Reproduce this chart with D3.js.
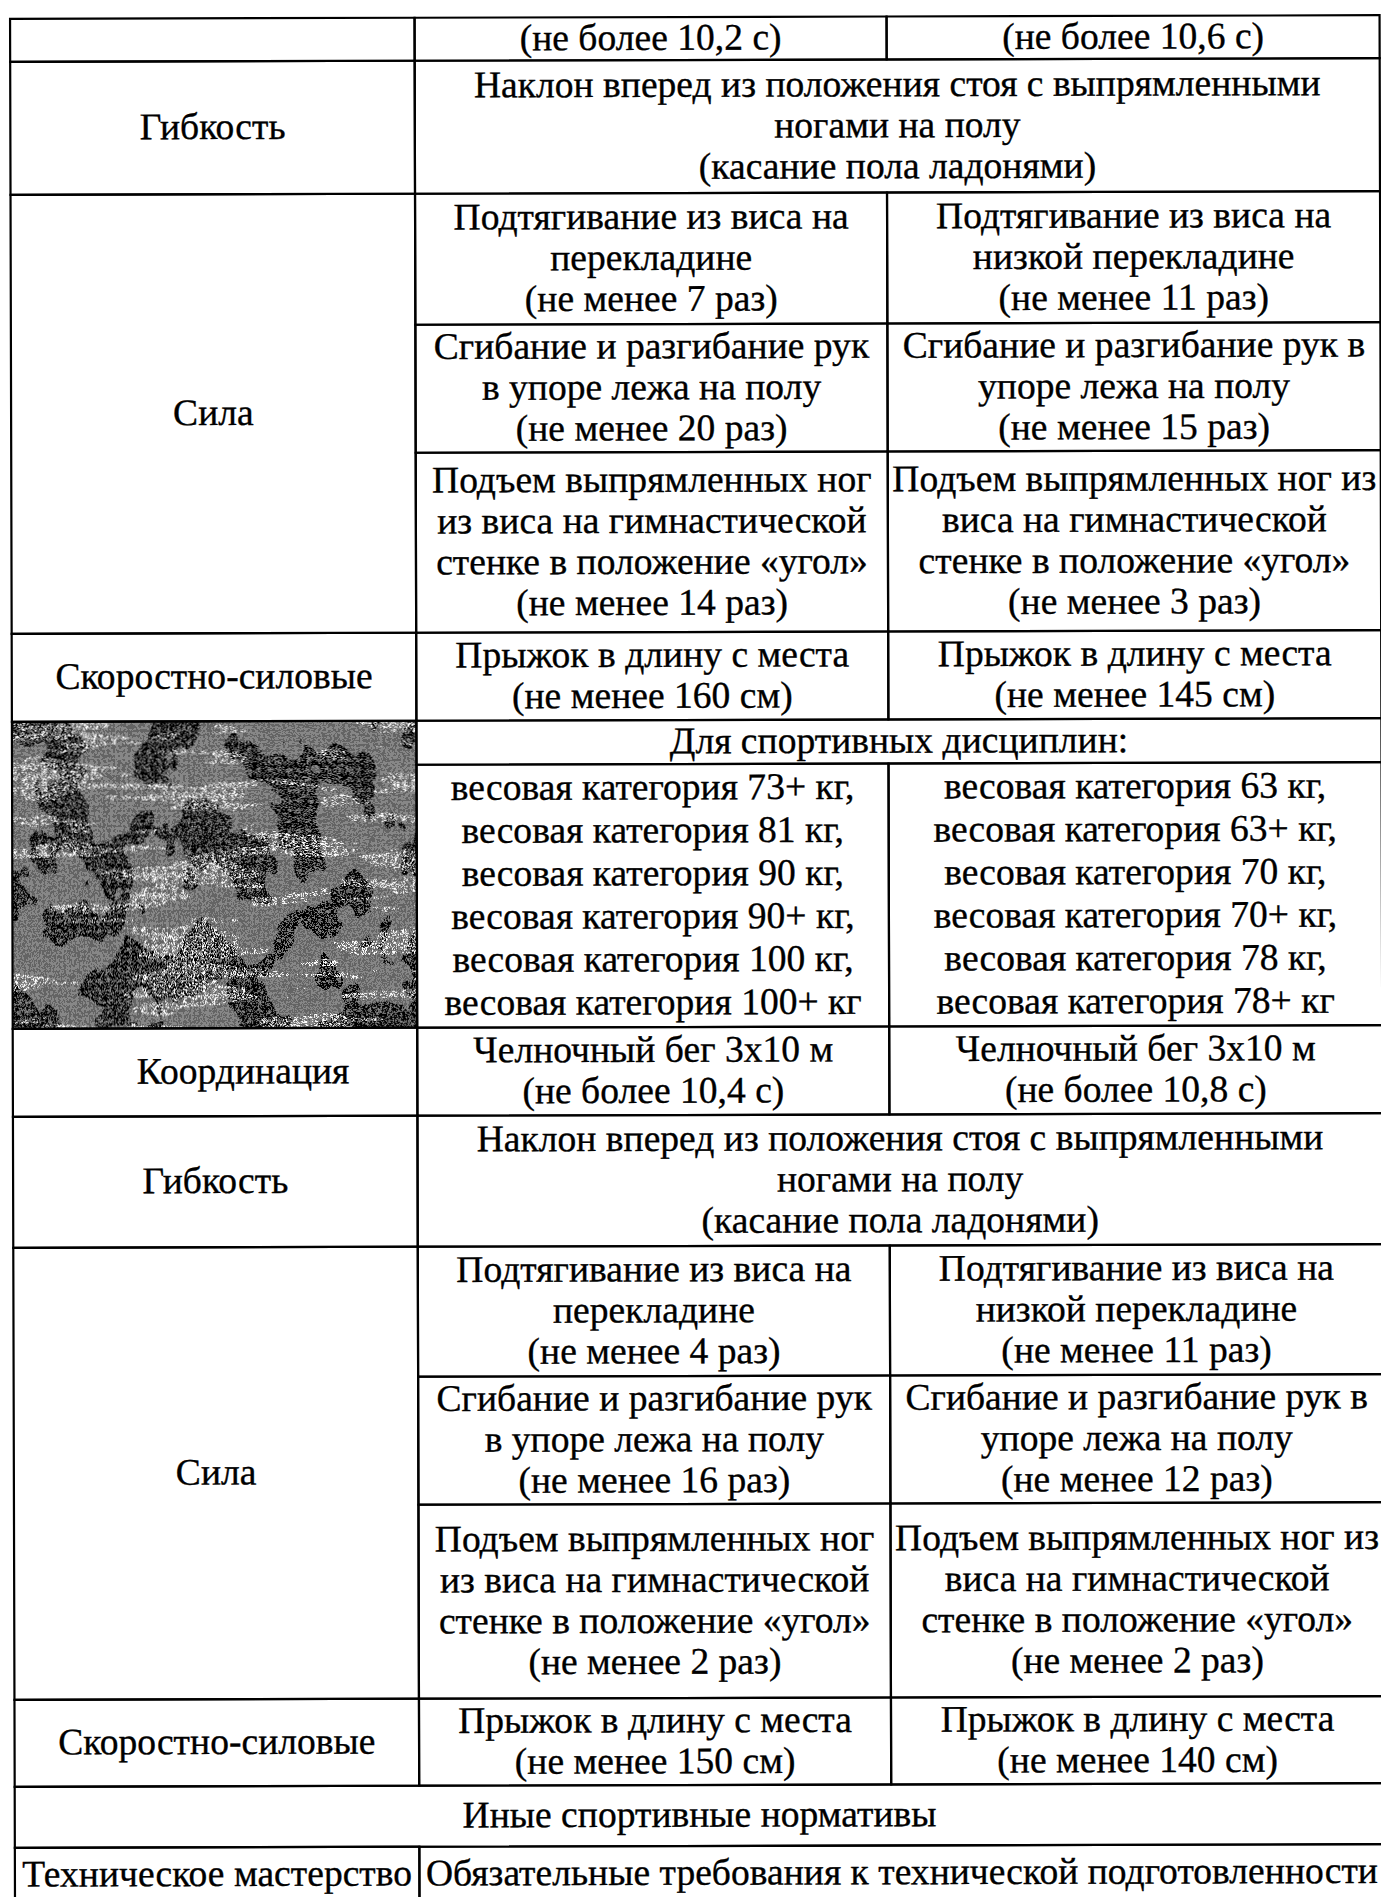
<!DOCTYPE html>
<html><head><meta charset="utf-8">
<script src="https://cdn.jsdelivr.net/npm/d3@7"></script>
<style>html,body{margin:0;padding:0;background:#fff;} svg{display:block}</style>
</head><body><div id="chart"></div>
<script>
// ---------- data (texts of the table) ----------
const flexText = ["Наклон вперед из положения стоя с выпрямленными", "ногами на полу", "(касание пола ладонями)"];
const pullA1 = ["Подтягивание из виса на", "перекладине", "(не менее 7 раз)"];
const pullB1 = ["Подтягивание из виса на", "низкой перекладине", "(не менее 11 раз)"];
const pushA1 = ["Сгибание и разгибание рук", "в упоре лежа на полу", "(не менее 20 раз)"];
const pushB1 = ["Сгибание и разгибание рук в", "упоре лежа на полу", "(не менее 15 раз)"];
const legsA1 = ["Подъем выпрямленных ног", "из виса на гимнастической", "стенке в положение «угол»", "(не менее 14 раз)"];
const legsB1 = ["Подъем выпрямленных ног из", "виса на гимнастической", "стенке в положение «угол»", "(не менее 3 раз)"];
const jumpA1 = ["Прыжок в длину с места", "(не менее 160 см)"];
const jumpB1 = ["Прыжок в длину с места", "(не менее 145 см)"];
const weightsA = ["весовая категория 73+ кг,", "весовая категория 81 кг,", "весовая категория 90 кг,", "весовая категория 90+ кг,", "весовая категория 100 кг,", "весовая категория 100+ кг"];
const weightsB = ["весовая категория 63 кг,", "весовая категория 63+ кг,", "весовая категория 70 кг,", "весовая категория 70+ кг,", "весовая категория 78 кг,", "весовая категория 78+ кг"];
const runA2 = ["Челночный бег 3х10 м", "(не более 10,4 с)"];
const runB2 = ["Челночный бег 3х10 м", "(не более 10,8 с)"];
const pullA2 = ["Подтягивание из виса на", "перекладине", "(не менее 4 раз)"];
const pullB2 = ["Подтягивание из виса на", "низкой перекладине", "(не менее 11 раз)"];
const pushA2 = ["Сгибание и разгибание рук", "в упоре лежа на полу", "(не менее 16 раз)"];
const pushB2 = ["Сгибание и разгибание рук в", "упоре лежа на полу", "(не менее 12 раз)"];
const legsA2 = ["Подъем выпрямленных ног", "из виса на гимнастической", "стенке в положение «угол»", "(не менее 2 раз)"];
const legsB2 = ["Подъем выпрямленных ног из", "виса на гимнастической", "стенке в положение «угол»", "(не менее 2 раз)"];
const jumpA2 = ["Прыжок в длину с места", "(не менее 150 см)"];
const jumpB2 = ["Прыжок в длину с места", "(не менее 140 см)"];

// cells: [rowStart, rowEnd, colStart, colEnd, lines, kind]
const cells = [
  [0, 1, 0, 1, []],
  [0, 1, 1, 2, ["(не более 10,2 с)"]],
  [0, 1, 2, 3, ["(не более 10,6 с)"]],
  [1, 2, 0, 1, ["Гибкость"]],
  [1, 2, 1, 3, flexText],
  [2, 5, 0, 1, ["Сила"]],
  [2, 3, 1, 2, pullA1], [2, 3, 2, 3, pullB1],
  [3, 4, 1, 2, pushA1], [3, 4, 2, 3, pushB1],
  [4, 5, 1, 2, legsA1], [4, 5, 2, 3, legsB1],
  [5, 6, 0, 1, ["Скоростно-силовые"]],
  [5, 6, 1, 2, jumpA1], [5, 6, 2, 3, jumpB1],
  [6, 8, 0, 1, [], "texture"],
  [6, 7, 1, 3, ["Для спортивных дисциплин:"]],
  [7, 8, 1, 2, weightsA, "list"], [7, 8, 2, 3, weightsB, "list"],
  [8, 9, 0, 1, ["Координация"], "indent"],
  [8, 9, 1, 2, runA2], [8, 9, 2, 3, runB2],
  [9, 10, 0, 1, ["Гибкость"]],
  [9, 10, 1, 3, flexText],
  [10, 13, 0, 1, ["Сила"]],
  [10, 11, 1, 2, pullA2], [10, 11, 2, 3, pullB2],
  [11, 12, 1, 2, pushA2], [11, 12, 2, 3, pushB2],
  [12, 13, 1, 2, legsA2], [12, 13, 2, 3, legsB2],
  [13, 14, 0, 1, ["Скоростно-силовые"]],
  [13, 14, 1, 2, jumpA2], [13, 14, 2, 3, jumpB2],
  [14, 15, 0, 3, ["Иные спортивные нормативы"]],
  [15, 16, 0, 1, ["Техническое мастерство"]],
  [15, 16, 1, 3, ["Обязательные требования к технической подготовленности"]]
];

// ---------- layout ----------
const W = 1381, H = 1897;
const colEdges = [12.5, 417, 889, 1382];
const rowEdges = [17, 60, 193, 324, 452, 632, 720, 764, 1027, 1115, 1246, 1376, 1504, 1698, 1785, 1846, 1901];
const FONT = 37.6, LINE = 41, LIST_LINE = 43, INDENT = 28;

const x = d3.scaleLinear().domain(d3.range(colEdges.length)).range(colEdges);
const y = d3.scaleLinear().domain(d3.range(rowEdges.length)).range(rowEdges);

const svg = d3.select("#chart").append("svg").attr("width", W).attr("height", H)
  .style("background", "#fff");

const defs = svg.append("defs");
function noiseFilter(id, freq, seed, colorRow, thresholds, grainSeed, grainCut) {
  const f = defs.append("filter").attr("id", id).attr("x", 0).attr("y", 0).attr("width", 1).attr("height", 1)
    .attr("color-interpolation-filters", "sRGB");
  f.append("feTurbulence").attr("type", "fractalNoise").attr("baseFrequency", freq).attr("numOctaves", 3).attr("seed", seed).attr("result", "n");
  f.append("feColorMatrix").attr("in", "n").attr("type", "matrix").attr("values", colorRow).attr("result", "m");
  f.append("feComponentTransfer").attr("in", "m").attr("result", "m2")
    .append("feFuncA").attr("type", "discrete").attr("tableValues", thresholds);
  f.append("feTurbulence").attr("type", "turbulence").attr("baseFrequency", "0.9").attr("numOctaves", 1).attr("seed", grainSeed).attr("result", "gn");
  f.append("feColorMatrix").attr("in", "gn").attr("type", "matrix")
    .attr("values", `0 0 0 0 0  0 0 0 0 0  0 0 0 0 0  ${grainCut[0]} 0 0 0 ${grainCut[1]}`).attr("result", "g2");
  f.append("feComponentTransfer").attr("in", "g2").attr("result", "g3")
    .append("feFuncA").attr("type", "discrete").attr("tableValues", "0 1");
  f.append("feComposite").attr("in", "m2").attr("in2", "g3").attr("operator", "in");
}
// dark blotches (speckled)
noiseFilter("fDark", "0.022 0.016", 11, "0 0 0 0 0  0 0 0 0 0  0 0 0 0 0  -4 0 0 0 2.52", "0 0 0 0 0 1 1 1", 5, [12, -1.0]);
// white horizontal bands (speckled)
noiseFilter("fWhite", "0.008 0.045", 4, "0 0 0 0 1  0 0 0 0 1  0 0 0 0 1  4 0 0 0 -1.6", "0 0 0 0 0 1 1 1", 9, [6, -1.0]);
// fine grain over the grey
const fg = defs.append("filter").attr("id", "fGrain").attr("x", 0).attr("y", 0).attr("width", 1).attr("height", 1);
fg.append("feTurbulence").attr("type", "turbulence").attr("baseFrequency", "0.8").attr("numOctaves", 1).attr("seed", 2);
fg.append("feColorMatrix").attr("type", "matrix").attr("values", "0 0 0 0 0  0 0 0 0 0  0 0 0 0 0  0 0 0 -6 1.6");
fg.append("feComponentTransfer").append("feFuncA").attr("type", "discrete").attr("tableValues", "0 0 1");

const g = svg.append("g").attr("transform", "rotate(-0.15, 695, 950)");

// textured cell
cells.filter(c => c[5] === "texture").forEach(c => {
  const rx = x(c[2]), ry = y(c[0]), rw = x(c[3]) - x(c[2]), rh = y(c[1]) - y(c[0]);
  const add = (fill, filter, op) => g.append("rect").attr("x", rx).attr("y", ry).attr("width", rw).attr("height", rh)
    .attr("fill", fill).attr("filter", filter).attr("opacity", op);
  add("#878787", null, 1);
  add("#000", "url(#fGrain)", 0.25);
  add("#000", "url(#fDark)", 1);
  add("#fff", "url(#fWhite)", 1);
});

// cell borders
g.selectAll("rect.cell").data(cells).join("rect").attr("class", "cell")
  .attr("x", d => x(d[2])).attr("y", d => y(d[0]))
  .attr("width", d => x(d[3]) - x(d[2])).attr("height", d => y(d[1]) - y(d[0]))
  .attr("fill", "none").attr("stroke", "#000").attr("stroke-width", 2.2);

// cell texts
cells.forEach(c => {
  const lines = c[4];
  if (!lines.length) return;
  const lh = c[5] === "list" ? LIST_LINE : LINE;
  const cx = (x(c[2]) + x(c[3])) / 2 + (c[5] === "indent" ? INDENT : 0);
  const cy = (y(c[0]) + y(c[1])) / 2;
  const n = lines.length;
  g.append("g").selectAll("text").data(lines).join("text")
    .attr("x", cx)
    .attr("y", (d, i) => cy + (i - (n - 1) / 2) * lh + FONT * 0.3)
    .attr("text-anchor", "middle")
    .attr("font-family", "'Liberation Serif', 'Times New Roman', serif")
    .attr("font-size", FONT)
    .attr("fill", "#000")
    .attr("stroke", "#000").attr("stroke-width", 0.35)
    .text(d => d);
});
</script>
</body></html>
